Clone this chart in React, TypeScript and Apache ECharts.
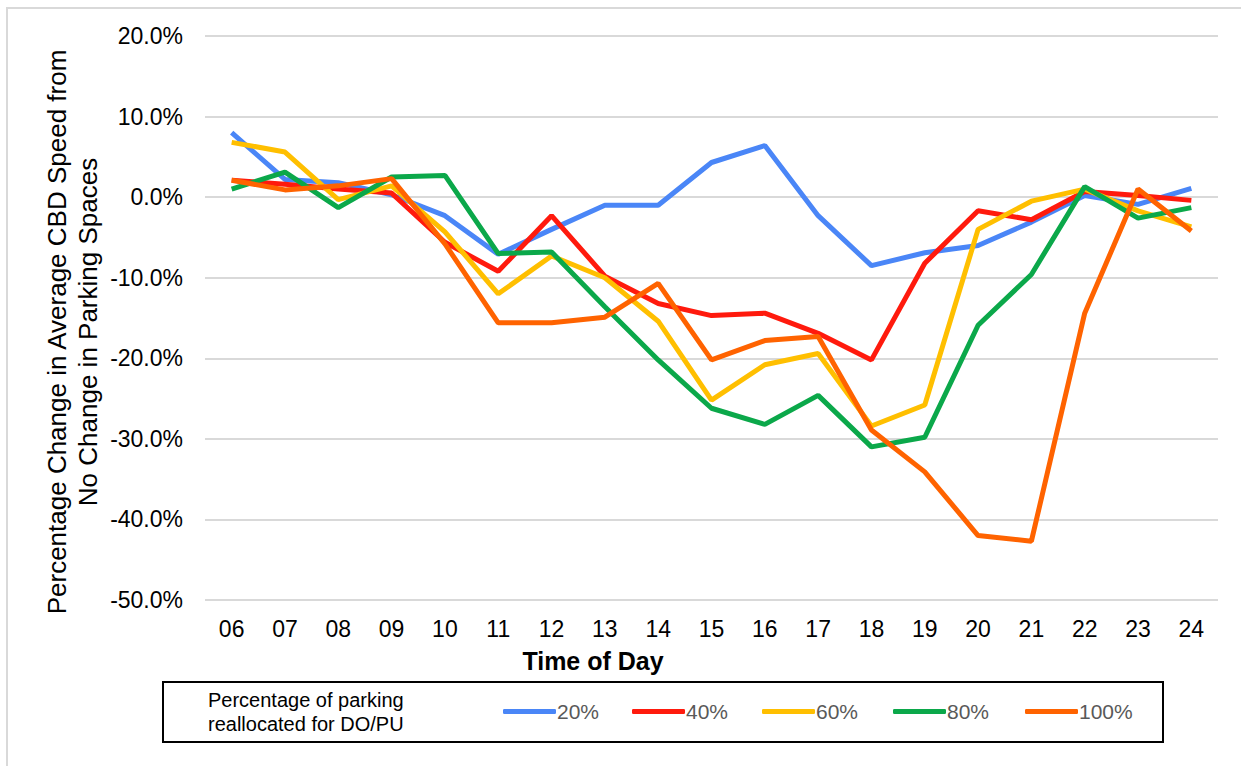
import React, { useEffect, useRef } from "react";
import * as echarts from "echarts";

const hours = ["06","07","08","09","10","11","12","13","14","15","16","17","18","19","20","21","22","23","24"];
const seriesNames = ["20%", "40%", "60%", "80%", "100%"];
const s20 = [8.0, 2.2, 1.8, 0.3, -2.3, -7.1, -4.0, -1.0, -1.0, 4.3, 6.4, -2.3, -8.5, -6.9, -6.0, -3.1, 0.2, -0.9, 1.1];
const s40 = [2.1, 1.6, 1.0, 0.5, -5.6, -9.2, -2.3, -9.8, -13.2, -14.7, -14.4, -16.9, -20.2, -8.2, -1.7, -2.8, 0.7, 0.2, -0.4];
const s60 = [6.8, 5.6, -0.3, 1.4, -4.3, -12.0, -7.3, -10.0, -15.4, -25.2, -20.8, -19.4, -28.4, -25.8, -4.0, -0.5, 1.0, -1.7, -3.7];
const s80 = [1.0, 3.1, -1.3, 2.5, 2.7, -7.0, -6.8, -13.6, -20.2, -26.2, -28.2, -24.6, -31.0, -29.8, -15.9, -9.6, 1.3, -2.6, -1.3];
const s100 = [2.1, 0.9, 1.4, 2.3, -5.8, -15.6, -15.6, -14.9, -10.7, -20.2, -17.8, -17.3, -28.9, -34.1, -42.0, -42.7, -14.4, 1.0, -4.2];
const seriesData = [s20, s40, s60, s80, s100];
const colors = ["#4A86F7", "#FF1A0D", "#FFBF00", "#0BA84A", "#FF6300"];
const yTicks = { min: -50, max: 20, interval: 10 };
const legendTitle = "Percentage of parking\nreallocated for DO/PU";
const xTitle = "Time of Day";
const yTitle = "Percentage Change in Average CBD Speed from\nNo Change in Parking Spaces";

const FONT = "'Liberation Sans', Arial, Helvetica, sans-serif";
const legendLefts = [503, 632, 762, 893, 1025];

export default function App() {
  const ref = useRef<HTMLDivElement>(null);
  useEffect(() => {
    document.body.style.margin = "0";
    if (!ref.current) return;
    const chart = echarts.init(ref.current, undefined, { renderer: "svg" });
    chart.setOption({
      animation: false,
      backgroundColor: "#ffffff",
      textStyle: { fontFamily: FONT },
      grid: { left: 205, right: 23, top: 36, bottom: 166, containLabel: false },
      xAxis: {
        type: "category",
        data: hours,
        boundaryGap: true,
        axisLine: { show: false },
        axisTick: { show: false },
        axisLabel: { color: "#000", fontSize: 23, fontFamily: FONT, margin: 17 },
        splitLine: { show: false },
      },
      yAxis: {
        type: "value",
        min: yTicks.min,
        max: yTicks.max,
        interval: yTicks.interval,
        axisLine: { show: false },
        axisTick: { show: false },
        axisLabel: {
          color: "#000",
          fontSize: 23,
          fontFamily: FONT,
          margin: 22,
          formatter: (v: number) => v.toFixed(1) + "%",
        },
        splitLine: { show: true, lineStyle: { color: "#D9D9D9", width: 2 } },
      },
      legend: seriesNames.map((n, i) => ({
        data: [n],
        left: legendLefts[i],
        top: 701,
        icon: "roundRect",
        itemWidth: 53,
        itemHeight: 5,
        itemGap: 0,
        padding: 0,
        selectedMode: false,
        textStyle: { color: "#595959", fontSize: 21, fontFamily: FONT, padding: [0, 0, 0, -4] },
      })),
      series: seriesNames.map((n, i) => ({
        name: n,
        type: "line",
        data: seriesData[i],
        symbol: "none",
        color: colors[i],
        lineStyle: { width: 5, color: colors[i] },
        itemStyle: { color: colors[i] },
        z: 2 + i,
      })),
      graphic: [
        {
          type: "rect",
          shape: { x: 7, y: 8, width: 1300, height: 800 },
          style: { fill: "none", stroke: "#D9D9D9", lineWidth: 2 },
          silent: true,
        },
        {
          type: "rect",
          shape: { x: 163, y: 682, width: 1000, height: 60 },
          style: { fill: "none", stroke: "#000", lineWidth: 2 },
          silent: true,
        },
        {
          type: "text",
          x: 208,
          y: 712,
          style: {
            text: legendTitle,
            fill: "#000",
            fontSize: 20,
            fontFamily: FONT,
            lineHeight: 24,
            textAlign: "left",
            textVerticalAlign: "middle",
          },
        },
        {
          type: "text",
          x: 593,
          y: 661,
          style: {
            text: xTitle,
            fill: "#000",
            fontSize: 25,
            fontWeight: "bold",
            fontFamily: FONT,
            textAlign: "center",
            textVerticalAlign: "middle",
          },
        },
        {
          type: "text",
          x: 72,
          y: 332,
          rotation: Math.PI / 2,
          style: {
            text: yTitle,
            fill: "#000",
            fontSize: 26,
            fontFamily: FONT,
            lineHeight: 31,
            textAlign: "center",
            textVerticalAlign: "middle",
          },
        },
      ],
    });
    return () => chart.dispose();
  }, []);
  return <div ref={ref} style={{ width: 1241, height: 766 }} />;
}
